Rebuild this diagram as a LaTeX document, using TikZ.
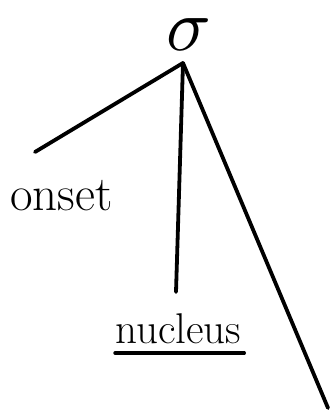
\documentclass[tikz,border=0pt]{standalone}
\usepackage{amsmath}
\usepackage{tikz}
\usetikzlibrary{positioning}

\begin{document}
\begin{tikzpicture}[x=1pt, y=-1pt, line cap=round,
    branch/.style={line width=3.8pt},
    word/.style={inner sep=0pt, anchor=base west, font=\fontsize{43}{50}\selectfont}]
        \useasboundingbox (0,0) rectangle (331,413);

        % Syllable
        \node (syll) [inner sep=0pt] at (189,35) {\scalebox{7.4}{$\sigma$}};
        \coordinate (top) at (183,63);

        % Constituents
        \node (onset) [word, font=\fontsize{49}{56}\selectfont] at (10,210) {onset};
        \node (nucleus) [word] at (115,343) {nucleus};

        % Branch ends
        \coordinate (onsetend) at (35,152);
        \coordinate (nucleusend) at (176,292);
        \coordinate (codaend) at (328,408);

        % Branches
        \draw[branch] (top) -- (onsetend);
        \draw[branch] (top) -- (nucleusend);
        \draw[branch] (top) -- (codaend);

        % Underline
        \draw[line width=3.4pt] ([yshift=-10pt]nucleus.base west) -- ([yshift=-10pt,xshift=3pt]nucleus.base east);
    \end{tikzpicture}
\end{document}
